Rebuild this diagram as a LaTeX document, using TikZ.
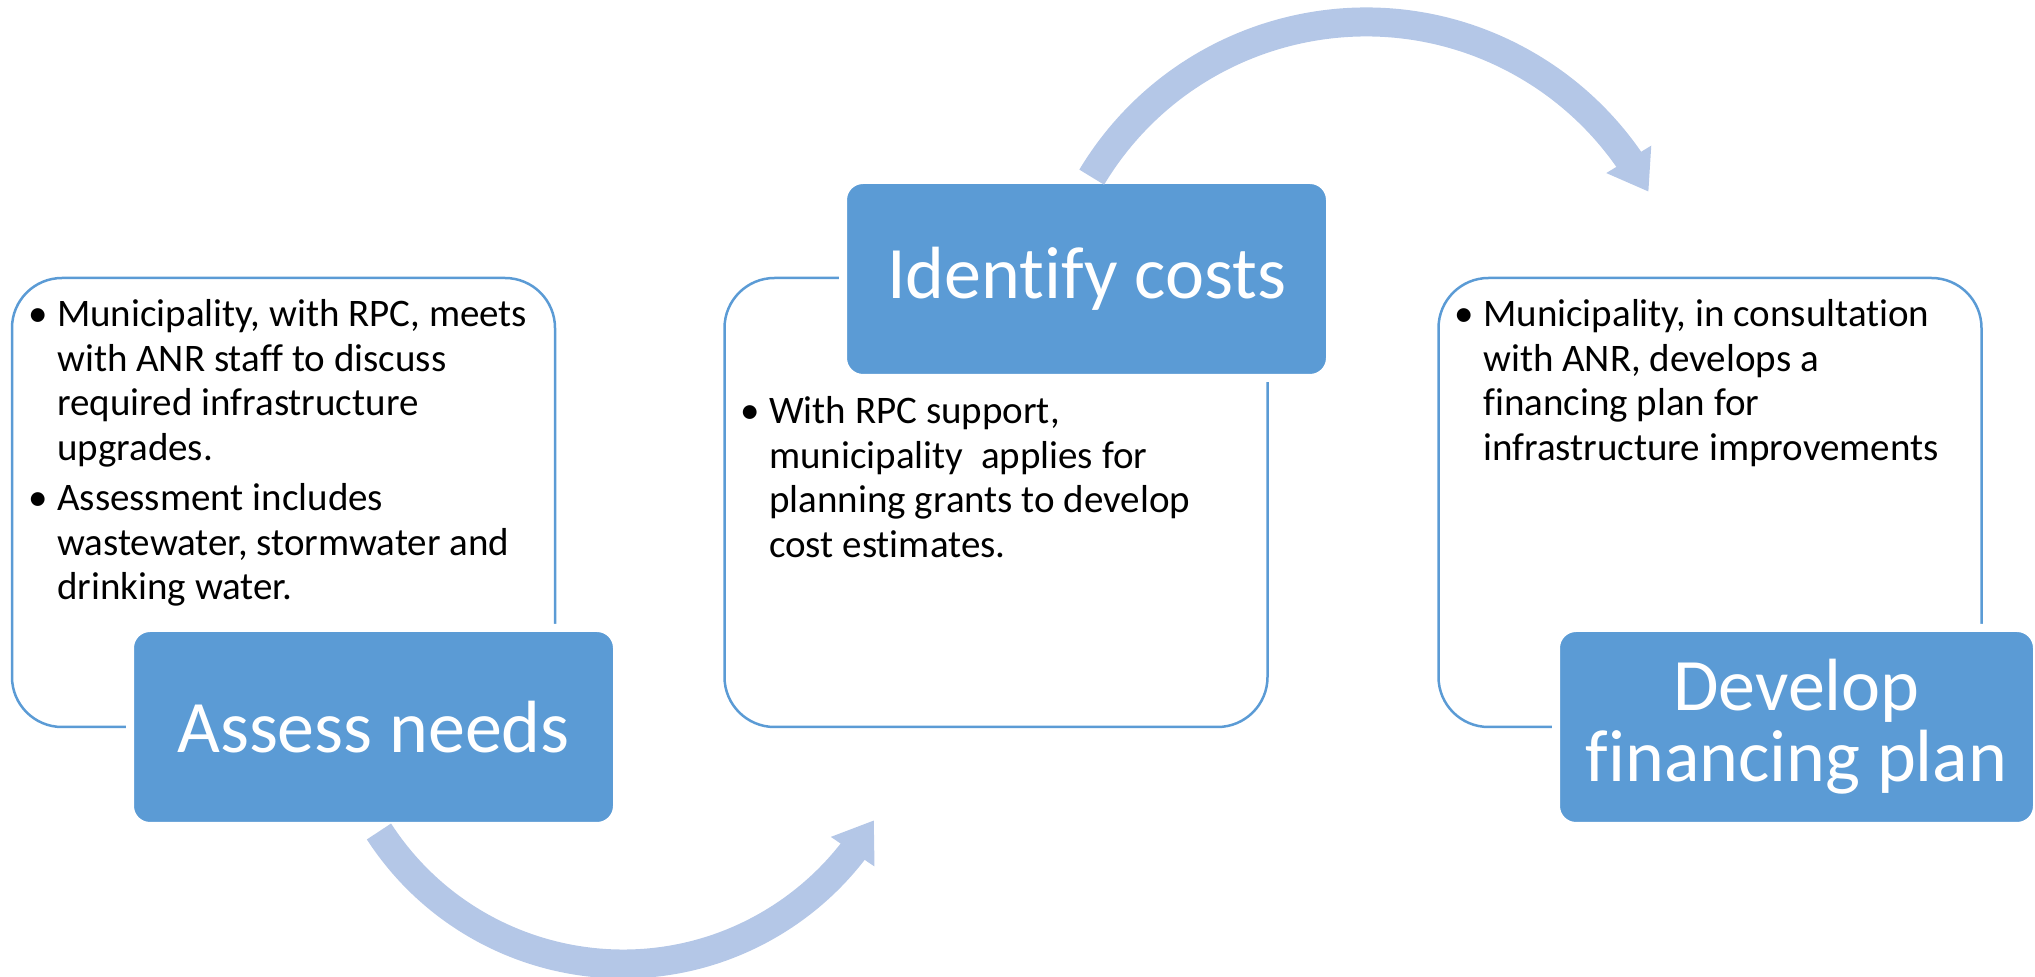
\documentclass[tikz,border=0pt]{standalone}
\usepackage{fontspec}
\setmainfont{Carlito}[Ligatures=NoCommon]
\usetikzlibrary{arrows.meta,bending}
\definecolor{stepBlue}{RGB}{91,155,213}
\definecolor{arcBlue}{RGB}{180,199,231}
\newcommand{\bul}{\makebox[29pt][l]{\textbullet}}

\begin{document}
\begin{tikzpicture}[x=1pt,y=1pt,
    panel/.style={draw=stepBlue, line width=2.5pt, rounded corners=50pt, minimum width=543pt, minimum height=449pt},
    title/.style={draw=white, line width=8pt, fill=stepBlue, text=white, rounded corners=20pt, minimum width=487pt, minimum height=198pt, font=\fontsize{74}{71}\selectfont, align=center},
    bodytext/.style={anchor=base west, inner sep=0pt, font=\fontsize{39}{44.5}\selectfont},
    flow/.style={arcBlue, line width=29pt, -{Triangle[width=50pt,length=38pt]}}]
    \useasboundingbox (0,0) rectangle (2035,977);

    % white panels
    \node[panel] (needpanel) at (283.5,474.5) {};
    \node[panel] (costpanel) at (996,474.5) {};
    \node[panel] (planpanel) at (1710,474.5) {};

    \node[bodytext] (needtext) at (28,650) {\begin{tabular}[t]{@{}l@{}l@{}}
        \bul & Municipality, with RPC, meets\\
        & with ANR staff to discuss\\
        & required infrastructure\\
        & upgrades.\\[6pt]
        \bul & Assessment includes\\
        & wastewater, stormwater and\\
        & drinking water.
    \end{tabular}};
    \node[bodytext] (costtext) at (740,553) {\begin{tabular}[t]{@{}l@{}l@{}}
        \bul & With RPC support,\\
        & municipality~ applies for\\
        & planning grants to develop\\
        & cost estimates.
    \end{tabular}};
    \node[bodytext] (plantext) at (1454,650) {\begin{tabular}[t]{@{}l@{}l@{}}
        \bul & Municipality, in consultation\\
        & with ANR, develops a\\
        & financing plan for\\
        & infrastructure improvements
    \end{tabular}};

    % blue titles
    \node[title] (need) at (373.5,250) {Assess needs};
    \node[title] (cost) at (1086.5,698) {Identify costs};
    \node[title, minimum width=481pt] (plan) at (1796.5,250) {Develop\\financing plan};

    % arrows
    \coordinate (upturn) at (1366,635);
    \coordinate (downturn) at (623,304);
    \draw[flow] ([shift={(149:320)}]upturn) arc[start angle=149, end angle=28, radius=320];
    \draw[flow] ([shift={(-147:291)}]downturn) arc[start angle=-147, end angle=-30.4, radius=291];
\end{tikzpicture}
\end{document}
